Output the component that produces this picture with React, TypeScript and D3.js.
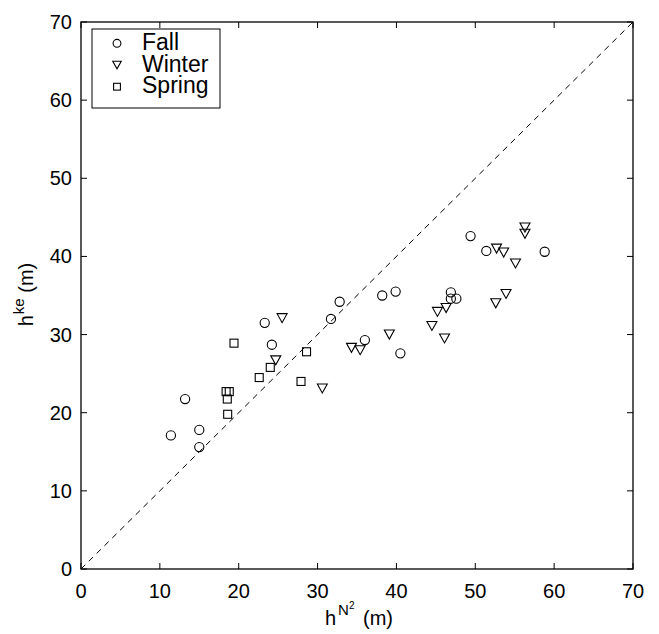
import React from "react";
import * as d3 from "d3";

const fallX = [11.4, 13.2, 15.0, 15.0, 23.3, 24.2, 31.7, 32.8, 36.0, 38.2, 39.9, 40.5, 46.9, 46.9, 47.6, 49.4, 51.4, 58.8];
const fallY = [17.1, 21.75, 17.8, 15.6, 31.5, 28.7, 32.0, 34.2, 29.3, 35.0, 35.5, 27.6, 35.4, 34.6, 34.6, 42.6, 40.7, 40.6];
const winterX = [24.7, 25.5, 30.6, 34.3, 35.4, 39.1, 44.5, 45.2, 46.1, 46.3, 52.6, 52.7, 53.6, 53.9, 55.1, 56.3, 56.3];
const winterY = [26.7, 32.1, 23.1, 28.3, 28.0, 30.0, 31.1, 32.9, 29.5, 33.4, 34.0, 41.0, 40.5, 35.2, 39.1, 43.7, 42.9];
const springX = [18.4, 18.8, 18.55, 18.6, 19.4, 22.6, 24.0, 27.9, 28.6];
const springY = [22.7, 22.7, 21.75, 19.8, 28.9, 24.5, 25.8, 24.0, 27.8];
const ticks = [0, 10, 20, 30, 40, 50, 60, 70];
const legendLabels = ["Fall", "Winter", "Spring"];

const W = 659, H = 634;
const L = 81, R = 633, T = 22, B = 569;
const FONT = "'Liberation Sans', Arial, Helvetica, sans-serif";

function Marker({ kind, cx, cy, s = 1 }: { kind: string; cx: number; cy: number; s?: number }) {
  if (kind === "Fall") return <circle cx={cx} cy={cy} r={4.6 * s} fill="none" stroke="#000" strokeWidth={1.1} />;
  if (kind === "Winter") {
    const hw = 5 * s, hh = 4.5 * s;
    return <path d={`M${cx - hw},${cy - hh}L${cx + hw},${cy - hh}L${cx},${cy + hh}Z`} fill="none" stroke="#000" strokeWidth={1.1} />;
  }
  const h = 4 * s;
  return <rect x={cx - h} y={cy - h} width={2 * h} height={2 * h} fill="none" stroke="#000" strokeWidth={1.1} />;
}

export default function App() {
  const x = d3.scaleLinear().domain([0, 70]).range([L, R]);
  const y = d3.scaleLinear().domain([0, 70]).range([B, T]);
  const series = [
    { name: "Fall", xs: fallX, ys: fallY },
    { name: "Winter", xs: winterX, ys: winterY },
    { name: "Spring", xs: springX, ys: springY },
  ];
  const tl = 6;
  return (
    <svg width={W} height={H} style={{ position: "absolute", left: 0, top: 0, background: "#fff" }} fontFamily={FONT}>
      <rect x={0} y={0} width={W} height={H} fill="#fff" />
      <line x1={x(0)} y1={y(0)} x2={x(70)} y2={y(70)} stroke="#000" strokeWidth={1} strokeDasharray="6,5" />
      {series.map((s) =>
        s.xs.map((v, i) => <Marker key={s.name + i} kind={s.name} cx={x(v)} cy={y(s.ys[i])} />)
      )}
      {/* axes box */}
      <rect x={L} y={T} width={R - L} height={B - T} fill="none" stroke="#000" strokeWidth={1.3} />
      {ticks.map((t) => (
        <g key={"t" + t}>
          <line x1={x(t)} y1={B} x2={x(t)} y2={B - tl} stroke="#000" />
          <line x1={x(t)} y1={T} x2={x(t)} y2={T + tl} stroke="#000" />
          <line x1={L} y1={y(t)} x2={L + tl} y2={y(t)} stroke="#000" />
          <line x1={R} y1={y(t)} x2={R - tl} y2={y(t)} stroke="#000" />
          <text x={x(t)} y={B + 29} fontSize={20} textAnchor="middle">{t}</text>
          <text x={L - 9} y={y(t) + 7} fontSize={20} textAnchor="end">{t}</text>
        </g>
      ))}
      {/* x label */}
      <text x={359} y={625} fontSize={20} textAnchor="middle">
        h<tspan dx={2} dy={-10} fontSize={15}>N</tspan><tspan dy={-6} fontSize={10}>2</tspan><tspan dx={3} dy={16} fontSize={20}> (m)</tspan>
      </text>
      {/* y label */}
      <text transform={`translate(33,${(T + B) / 2 - 1}) rotate(-90)`} fontSize={20} textAnchor="middle">
        h<tspan dx={1} dy={-9} fontSize={15}>ke</tspan><tspan dy={9} fontSize={20}> (m)</tspan>
      </text>
      {/* legend */}
      <rect x={92} y={29} width={128} height={79} fill="#fff" stroke="#000" strokeWidth={1} />
      {legendLabels.map((lab, i) => (
        <g key={lab}>
          <Marker kind={lab} cx={117} cy={43.3 + i * 21.7} s={0.85} />
          <text x={142} y={43.3 + i * 21.7 + 6.5} fontSize={23}>{lab}</text>
        </g>
      ))}
    </svg>
  );
}
